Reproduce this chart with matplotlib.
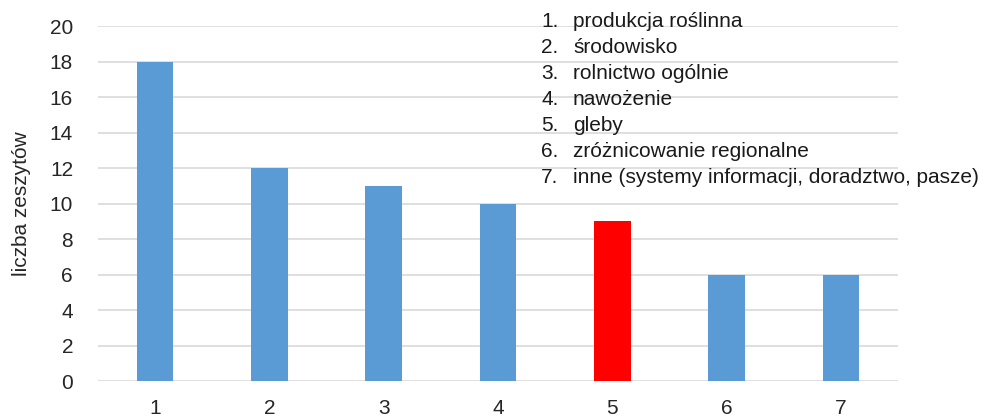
import matplotlib.pyplot as plt

categories = ["1", "2", "3", "4", "5", "6", "7"]
values = [18, 12, 11, 10, 9, 6, 6]
colors = ["#5b9bd5", "#5b9bd5", "#5b9bd5", "#5b9bd5", "#ff0000", "#5b9bd5", "#5b9bd5"]
legend_numbers = ["1.", "2.", "3.", "4.", "5.", "6.", "7."]
legend_labels = [
    "produkcja roślinna",
    "środowisko",
    "rolnictwo ogólnie",
    "nawożenie",
    "gleby",
    "zróżnicowanie regionalne",
    "inne (systemy informacji, doradztwo, pasze)",
]
y_label = "liczba zeszytów"

plt.rcParams["font.family"] = ["Liberation Sans", "DejaVu Sans"]
FS = 15

fig = plt.figure(figsize=(9.9, 4.17), dpi=100)
ax = fig.add_axes([0.099, 0.0863, 0.808, 0.8513])

x = list(range(len(categories)))
ax.bar(x, values, width=0.32, color=colors, zorder=2)

ax.set_xlim(-0.5, len(categories) - 0.5)
ax.set_ylim(0, 20)
ax.set_yticks(range(0, 21, 2))
ax.set_xticks(x)
ax.set_xticklabels(categories)
ax.yaxis.grid(True, color="#d9d9d9", linewidth=1.2, zorder=0)
ax.set_axisbelow(True)
for s in ax.spines.values():
    s.set_visible(False)
ax.tick_params(axis="both", length=0, labelsize=FS, colors="#262626")
ax.tick_params(axis="y", pad=18)
ax.tick_params(axis="x", pad=13)
ax.set_ylabel(y_label, fontsize=FS, color="#262626")
ax.yaxis.set_label_coords((21 - 98) / 800, 0.5)
ax.yaxis.label.set_va("center")

# numbered category key in the upper right
base0 = 27
step = 26
for i, (num, lab) in enumerate(zip(legend_numbers, legend_labels)):
    yp = 1 - (base0 + i * step) / 417
    fig.text(541 / 990, yp, num, fontsize=FS, color="#1a1a1a", va="baseline", ha="left")
    fig.text(573 / 990, yp, lab, fontsize=FS, color="#1a1a1a", va="baseline", ha="left")

fig.savefig("out.png", dpi=100, facecolor="white")
